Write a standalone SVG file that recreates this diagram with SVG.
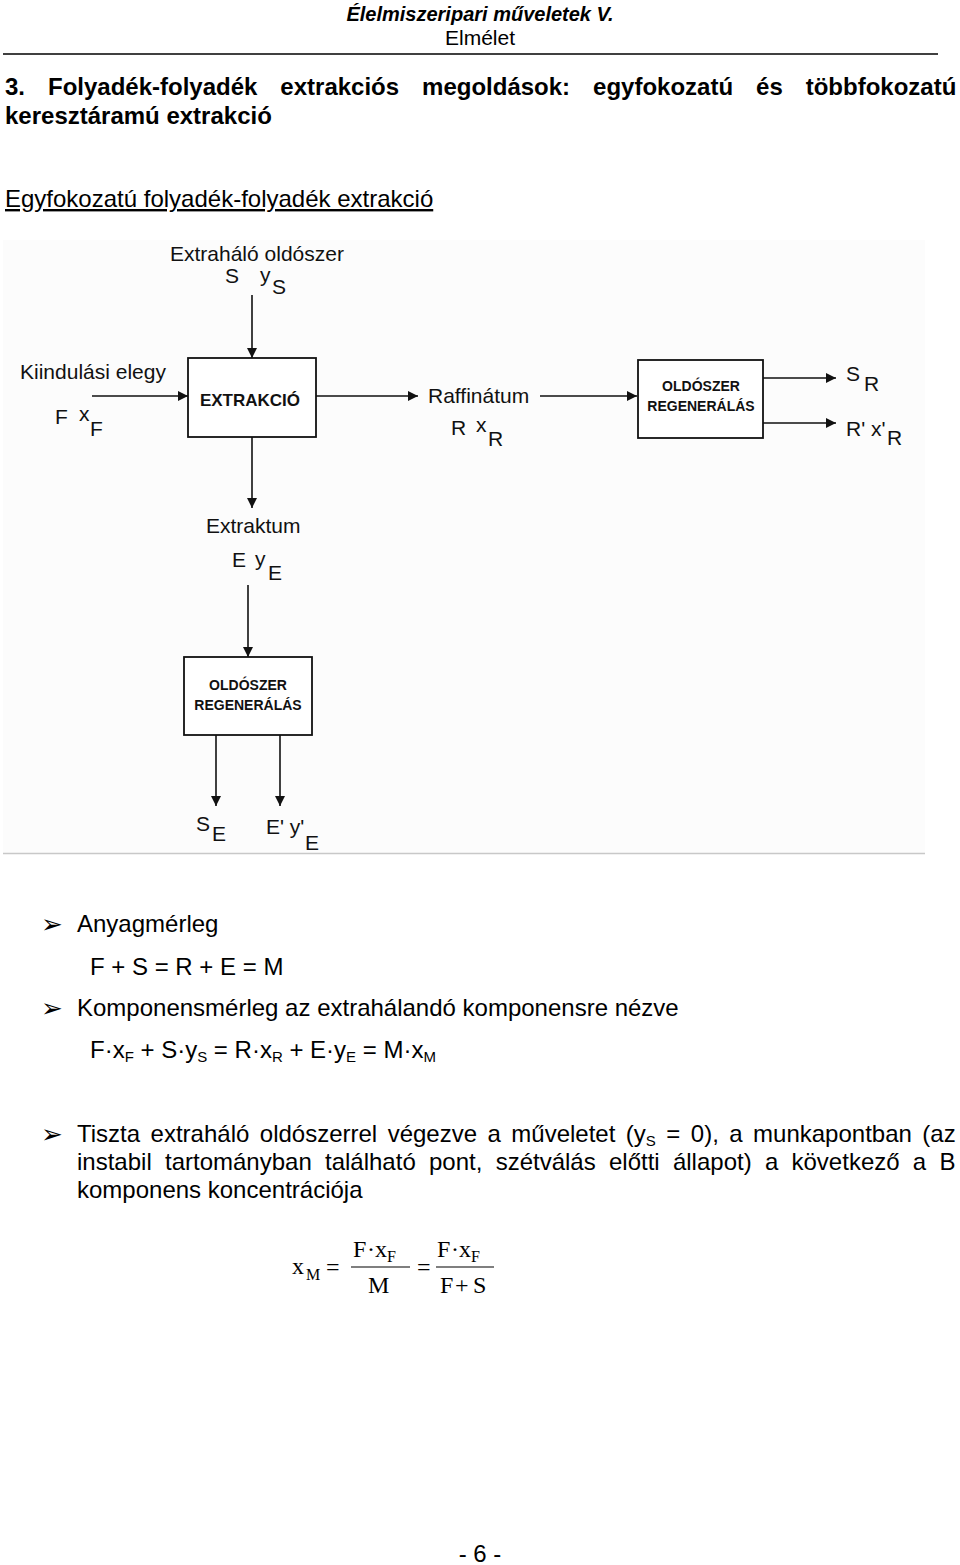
<svg xmlns="http://www.w3.org/2000/svg" width="960" height="1565" viewBox="0 0 960 1565">
<style>
  .hdr{font-family:"Liberation Sans",Arial,sans-serif;fill:#000}
  .body{font-family:"Liberation Sans",Arial,sans-serif;font-size:24px;fill:#000}
  .ttl{font-family:"Liberation Sans",Arial,sans-serif;font-size:24px;font-weight:bold;fill:#000}
  .lbl{font-family:"Liberation Sans",Arial,sans-serif;font-size:21px;fill:#111}
  .sub{font-size:21px}
  .boxt{font-family:"Liberation Sans",Arial,sans-serif;font-weight:bold;fill:#111;text-anchor:middle}
  .box{fill:#fff;stroke:#111;stroke-width:1.8}
  .conn{stroke:#111;stroke-width:1.6;fill:none}
  .math{font-family:"Liberation Serif","Times New Roman",serif;font-size:24px;fill:#000}
  .msub{font-size:16px}
  .bul{font-family:"DejaVu Sans",sans-serif;font-size:26px;fill:#000}
</style>
<defs>
  <marker id="ah" markerUnits="userSpaceOnUse" markerWidth="11" markerHeight="11" refX="10" refY="5" orient="auto">
    <path d="M0,0 L10,5 L0,10 z" fill="#111"/>
  </marker>
</defs>
<rect width="960" height="1565" fill="#fff"/>

<!-- header -->
<text class="hdr" x="480" y="21" font-size="20" font-weight="bold" font-style="italic" text-anchor="middle">Élelmiszeripari műveletek V.</text>
<text class="hdr" x="480" y="45" font-size="21" text-anchor="middle">Elmélet</text>
<line x1="3" y1="54" x2="938" y2="54" stroke="#000" stroke-width="1.6"/>

<text class="ttl" x="5" y="95" word-spacing="16.3">3. Folyadék-folyadék extrakciós megoldások: egyfokozatú és többfokozatú</text>
<text class="ttl" x="5" y="124">keresztáramú extrakció</text>
<text class="body" x="5" y="207" text-decoration="underline">Egyfokozatú folyadék-folyadék extrakció</text>

<!-- diagram background -->
<rect x="3" y="240" width="922" height="613" fill="#fcfcfc"/>
<line x1="3" y1="853.5" x2="925" y2="853.5" stroke="#c8c8c8" stroke-width="1.5"/>

<g id="connectors">
  <line class="conn" x1="252" y1="295" x2="252" y2="358" marker-end="url(#ah)"/>
  <line class="conn" x1="92" y1="396" x2="188" y2="396" marker-end="url(#ah)"/>
  <line class="conn" x1="316" y1="396" x2="418" y2="396" marker-end="url(#ah)"/>
  <line class="conn" x1="540" y1="396" x2="637" y2="396" marker-end="url(#ah)"/>
  <line class="conn" x1="763" y1="378" x2="836" y2="378" marker-end="url(#ah)"/>
  <line class="conn" x1="763" y1="423" x2="836" y2="423" marker-end="url(#ah)"/>
  <line class="conn" x1="252" y1="437" x2="252" y2="508" marker-end="url(#ah)"/>
  <line class="conn" x1="248" y1="585" x2="248" y2="657" marker-end="url(#ah)"/>
  <line class="conn" x1="216" y1="735" x2="216" y2="806" marker-end="url(#ah)"/>
  <line class="conn" x1="280" y1="735" x2="280" y2="806" marker-end="url(#ah)"/>
</g>

<g id="extrakcio">
  <rect class="box" x="188" y="358" width="128" height="79"/>
  <text class="boxt" x="250" y="406" font-size="17">EXTRAKCIÓ</text>
</g>
<g id="regen-r">
  <rect class="box" x="638" y="360" width="125" height="78"/>
  <text class="boxt" x="701" y="391" font-size="14">OLDÓSZER</text>
  <text class="boxt" x="701" y="411" font-size="14">REGENERÁLÁS</text>
</g>
<g id="regen-e">
  <rect class="box" x="184" y="657" width="128" height="78"/>
  <text class="boxt" x="248" y="690" font-size="14">OLDÓSZER</text>
  <text class="boxt" x="248" y="710" font-size="14">REGENERÁLÁS</text>
</g>

<g id="solvent">
  <text class="lbl" x="170" y="261">Extraháló oldószer</text>
  <text class="lbl" x="225" y="283">S</text>
  <text class="lbl" x="260" y="282">y</text>
  <text class="lbl sub" x="272" y="294">S</text>
</g>
<g id="feed">
  <text class="lbl" x="20" y="379">Kiindulási elegy</text>
  <text class="lbl" x="55" y="424">F</text>
  <text class="lbl" x="79" y="421">x</text>
  <text class="lbl sub" x="90" y="436">F</text>
</g>
<g id="raffinate">
  <text class="lbl" x="428" y="403">Raffinátum</text>
  <text class="lbl" x="451" y="435">R</text>
  <text class="lbl" x="476" y="432">x</text>
  <text class="lbl sub" x="488" y="446">R</text>
</g>
<g id="sr">
  <text class="lbl" x="846" y="381">S</text>
  <text class="lbl sub" x="864" y="391">R</text>
</g>
<g id="rprime">
  <text class="lbl" x="846" y="436">R' x'</text>
  <text class="lbl sub" x="887" y="445">R</text>
</g>
<g id="extract">
  <text class="lbl" x="206" y="533">Extraktum</text>
  <text class="lbl" x="232" y="567">E</text>
  <text class="lbl" x="255" y="566">y</text>
  <text class="lbl sub" x="268" y="580">E</text>
</g>
<g id="se">
  <text class="lbl" x="196" y="831">S</text>
  <text class="lbl sub" x="212" y="841">E</text>
</g>
<g id="eprime">
  <text class="lbl" x="266" y="834">E' y'</text>
  <text class="lbl sub" x="305" y="850">E</text>
</g>

<!-- balances -->
<text class="bul" x="41" y="933">➢</text>
<text class="body" x="77" y="932">Anyagmérleg</text>
<text class="body" x="90" y="975">F + S = R + E = M</text>
<text class="bul" x="41" y="1017">➢</text>
<text class="body" x="77" y="1016">Komponensmérleg az extrahálandó komponensre nézve</text>
<text class="body" x="90" y="1058">F·x<tspan font-size="15" dy="4">F</tspan><tspan dy="-4"> + S·y</tspan><tspan font-size="15" dy="4">S</tspan><tspan dy="-4"> = R·x</tspan><tspan font-size="15" dy="4">R</tspan><tspan dy="-4"> + E·y</tspan><tspan font-size="15" dy="4">E</tspan><tspan dy="-4"> = M·x</tspan><tspan font-size="15" dy="4">M</tspan></text>

<text class="bul" x="41" y="1143">➢</text>
<text class="body" x="77" y="1142" word-spacing="3.8">Tiszta extraháló oldószerrel végezve a műveletet (y<tspan font-size="15" dy="4">S</tspan><tspan dy="-4"> = 0), a munkapontban (az</tspan></text>
<text class="body" x="77" y="1170" word-spacing="6.6">instabil tartományban található pont, szétválás előtti állapot) a következő a B</text>
<text class="body" x="77" y="1198">komponens koncentrációja</text>

<!-- formula -->
<g id="formula">
  <text class="math" x="292" y="1274">x</text>
  <text class="math msub" x="306" y="1280">M</text>
  <text class="math" x="326" y="1275">=</text>
  <text class="math" x="353" y="1257">F</text>
  <text class="math" x="367" y="1257">·</text>
  <text class="math" x="375" y="1257">x</text>
  <text class="math msub" x="387" y="1262">F</text>
  <line x1="351" y1="1267" x2="410" y2="1267" stroke="#000" stroke-width="1.2"/>
  <text class="math" x="368" y="1293">M</text>
  <text class="math" x="417" y="1275">=</text>
  <text class="math" x="437" y="1257">F</text>
  <text class="math" x="451" y="1257">·</text>
  <text class="math" x="459" y="1257">x</text>
  <text class="math msub" x="471" y="1262">F</text>
  <line x1="436" y1="1267" x2="494" y2="1267" stroke="#000" stroke-width="1.2"/>
  <text class="math" x="440" y="1293">F</text>
  <text class="math" x="455" y="1293">+</text>
  <text class="math" x="473" y="1293">S</text>
</g>

<text class="body" x="480" y="1562" font-size="22" text-anchor="middle">- 6 -</text>
</svg>
